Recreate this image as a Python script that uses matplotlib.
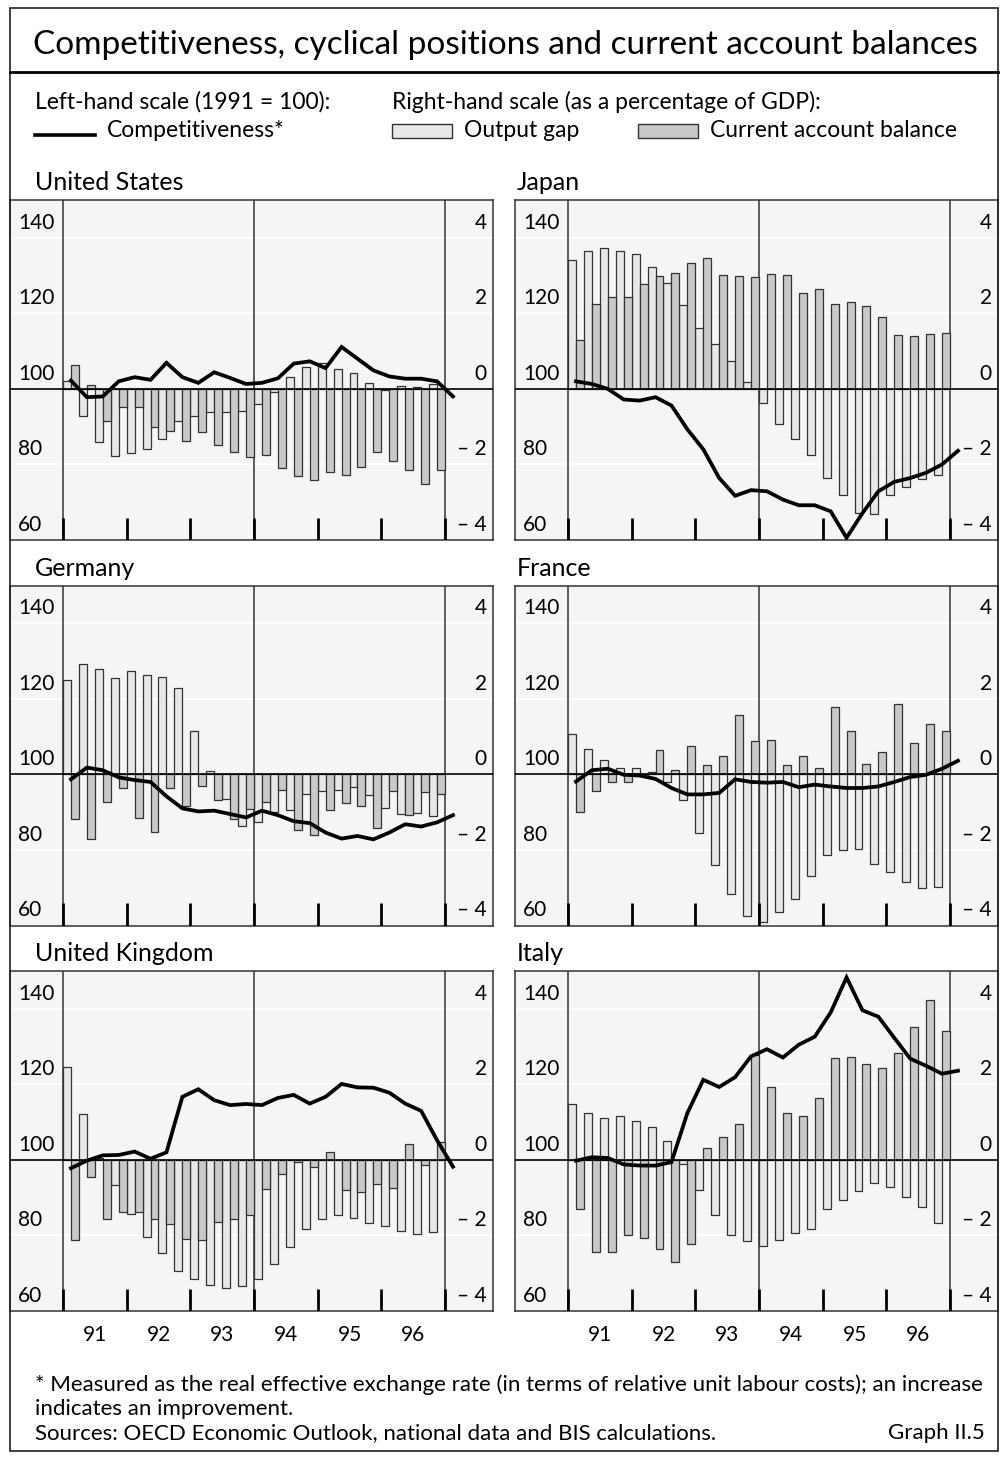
import numpy as np
import matplotlib.pyplot as plt
from matplotlib.patches import Rectangle
from matplotlib.lines import Line2D

plt.rcParams['font.family'] = ['Lato', 'DejaVu Sans']

# quarterly data 1991 Q1 - 1996 Q4 (bars), competitiveness to 1997 Q1
countries = ['United States', 'Japan', 'Germany', 'France', 'United Kingdom', 'Italy']

us_gap = [0.20, -0.71, -1.41, -1.78, -1.71, -1.58, -1.32, -0.84, -0.73, -0.62, -0.62, -0.58,
          -0.40, -0.07, 0.31, 0.58, 0.68, 0.52, 0.42, 0.15, -0.02, 0.08, 0.04, 0.13]
us_cab = [0.64, 0.11, -0.84, -0.49, -0.49, -1.00, -1.11, -1.39, -1.13, -1.49, -1.67, -1.81,
          -1.76, -2.10, -2.30, -2.42, -2.20, -2.28, -2.07, -1.66, -1.91, -2.16, -2.53, -2.15]
us_comp = [102.2, 97.8, 98.0, 102.0, 103.1, 102.4, 106.9, 103.1, 101.6, 104.4, 102.9, 101.3,
           101.6, 102.8, 106.7, 107.3, 105.5, 111.1, 108.0, 104.9, 103.3, 102.7, 102.7, 102.0, 98.0]

jp_gap = [3.40, 3.64, 3.72, 3.66, 3.57, 3.22, 2.79, 2.22, 1.62, 1.19, 0.73, 0.19,
          -0.37, -0.92, -1.32, -1.75, -2.35, -2.81, -3.28, -3.32, -2.80, -2.60, -2.39, -2.28]
jp_cab = [1.30, 2.26, 2.42, 2.43, 2.78, 2.98, 3.08, 3.32, 3.47, 3.01, 2.98, 2.96,
          3.05, 3.01, 2.53, 2.65, 2.25, 2.30, 2.20, 1.90, 1.43, 1.40, 1.46, 1.48]
jp_comp = [102.0, 101.3, 100.0, 97.2, 96.9, 97.8, 95.6, 89.3, 84.0, 76.4, 71.7, 73.2,
           72.9, 70.7, 69.2, 69.2, 67.6, 60.6, 67.1, 72.9, 75.4, 76.4, 77.8, 80.0, 83.6]

de_gap = [2.51, 2.93, 2.79, 2.54, 2.75, 2.64, 2.58, 2.28, 1.14, 0.09, -0.65, -1.36,
          -1.27, -1.00, -0.93, -0.53, -0.44, -0.40, -0.34, -0.54, -0.90, -1.05, -1.03, -1.11]
de_cab = [-1.18, -1.72, -0.74, -0.36, -1.16, -1.53, -0.36, -0.83, -0.31, -0.67, -1.18, -0.92,
          -0.74, -0.41, -1.47, -1.61, -0.94, -0.77, -0.84, -1.42, -0.44, -1.07, -0.47, -0.52]
de_comp = [98.7, 101.8, 101.1, 99.2, 98.5, 98.0, 94.2, 91.0, 90.2, 90.4, 89.5, 88.6,
           90.4, 89.2, 87.6, 87.1, 84.6, 83.0, 83.7, 82.8, 84.6, 86.8, 86.2, 87.3, 89.2]

fr_gap = [1.08, 0.66, 0.37, 0.17, 0.18, 0.06, -0.20, -0.67, -1.54, -2.41, -3.16, -3.76,
          -3.92, -3.65, -3.30, -2.69, -2.14, -2.00, -1.98, -2.36, -2.58, -2.84, -3.00, -2.98]
fr_cab = [-1.00, -0.45, -0.20, -0.20, -0.05, 0.64, 0.12, 0.76, 0.24, 0.49, 1.57, 0.88,
          0.92, 0.26, 0.50, 0.18, 1.79, 1.16, 0.27, 0.58, 1.87, 0.82, 1.33, 1.16]
fr_comp = [98.1, 101.1, 101.5, 99.9, 99.7, 98.8, 96.4, 94.7, 94.7, 95.1, 98.7, 98.0,
           97.8, 98.0, 96.6, 97.3, 96.8, 96.4, 96.4, 96.8, 98.0, 99.3, 99.9, 101.5, 103.6]

uk_gap = [2.47, 1.21, 0.05, -0.67, -1.44, -2.05, -2.47, -2.93, -3.14, -3.32, -3.40, -3.34,
          -3.16, -2.75, -2.31, -1.83, -1.56, -1.47, -1.55, -1.67, -1.76, -1.87, -1.96, -1.91]
uk_cab = [-2.12, -0.46, -1.56, -1.38, -1.39, -1.56, -1.71, -2.09, -2.12, -1.64, -1.57, -1.47,
          -0.78, -0.38, -0.05, -0.18, 0.20, -0.80, -0.84, -0.64, -0.74, 0.43, -0.13, 0.47]
uk_comp = [97.8, 99.8, 101.2, 101.3, 102.2, 100.3, 102.0, 116.7, 118.7, 115.8, 114.5, 114.8,
           114.5, 116.4, 117.2, 114.9, 116.7, 120.1, 119.2, 119.1, 117.8, 114.9, 113.0, 105.2, 98.2]

it_gap = [1.49, 1.25, 1.11, 1.15, 1.02, 0.87, 0.50, -0.11, -0.79, -1.46, -1.99, -2.16,
          -2.28, -2.13, -1.93, -1.82, -1.29, -1.07, -0.82, -0.60, -0.73, -0.98, -1.26, -1.66]
it_cab = [-1.31, -2.44, -2.44, -2.00, -2.06, -2.35, -2.71, -2.22, 0.31, 0.60, 0.94, 2.78,
          1.94, 1.25, 1.16, 1.64, 2.71, 2.73, 2.53, 2.42, 2.83, 3.51, 4.23, 3.42]
it_comp = [99.8, 100.7, 100.5, 98.8, 98.5, 98.5, 99.4, 112.4, 121.2, 119.3, 121.9, 127.4,
           129.3, 127.1, 130.5, 132.6, 139.0, 148.3, 139.6, 137.9, 132.3, 126.8, 124.9, 122.8, 123.6]

gaps = [us_gap, jp_gap, de_gap, fr_gap, uk_gap, it_gap]
cabs = [us_cab, jp_cab, de_cab, fr_cab, uk_cab, it_cab]
comps = [us_comp, jp_comp, de_comp, fr_comp, uk_comp, it_comp]

years = ['91', '92', '93', '94', '95', '96']
left_ticks = [60, 80, 100, 120, 140]
right_ticks = [-4, -2, 0, 2, 4]
right_labels = ['– 4', '– 2', '0', '2', '4']

W, H = 1002, 1459
fig = plt.figure(figsize=(W / 100, H / 100), dpi=100)

LIGHT = '#e8e8e8'
DARK = '#c9c9c9'
EDGE = '#333333'
BG = '#f5f5f5'


def px_axes(x, y, w, h):
    return fig.add_axes([x / W, 1 - (y + h) / H, w / W, h / H])


def ftext(x, y, s, **kw):
    fig.text(x / W, 1 - y / H, s, **kw)


# frame, title
fig.add_artist(Rectangle((9.5 / W, 1 - 1451 / H), 988 / W, 1443 / H, transform=fig.transFigure,
                         fill=False, lw=1.2, ec='#222222'))
fig.add_artist(Line2D([9.5 / W, 997.5 / W], [1 - 72 / H] * 2, transform=fig.transFigure,
                      lw=2, color='black'))
ftext(505, 54, 'Competitiveness, cyclical positions and current account balances',
      ha='center', va='baseline', fontsize=24)

# legend
ftext(35, 109, 'Left-hand scale (1991 = 100):', va='baseline', fontsize=16.5)
ftext(392, 109, 'Right-hand scale (as a percentage of GDP):', va='baseline', fontsize=16.5)
fig.add_artist(Line2D([35 / W, 95 / W], [1 - 135 / H] * 2, transform=fig.transFigure,
                      lw=2.6, color='black'))
ftext(107, 137, 'Competitiveness*', va='baseline', fontsize=16.5)
fig.add_artist(Rectangle((392 / W, 1 - 138 / H), 60 / W, 14 / H, transform=fig.transFigure,
                         fc=LIGHT, ec=EDGE, lw=1))
ftext(464, 137, 'Output gap', va='baseline', fontsize=16.5)
fig.add_artist(Rectangle((638 / W, 1 - 138 / H), 60 / W, 14 / H, transform=fig.transFigure,
                         fc=DARK, ec=EDGE, lw=1))
ftext(710, 137, 'Current account balance', va='baseline', fontsize=16.5)

q = np.arange(24)
qline = np.arange(25) + 0.5
xl = (-53 / 15.917, 24 + 48 / 15.917)

for k, name in enumerate(countries):
    col, row = k % 2, k // 2
    x0 = 10 if col == 0 else 515
    y0 = 200 + row * 385.5
    ax = px_axes(x0, y0, 483, 340)
    ax.set_xlim(*xl)
    ax.set_ylim(-4, 5)
    ax.set_facecolor(BG)
    for v in [-2, 2, 4]:
        ax.axhline(v, color='white', lw=1.3, zorder=0.5)
    ax.bar(q + 0.25, gaps[k], width=0.5, color=LIGHT, edgecolor=EDGE, lw=0.9, zorder=2)
    ax.bar(q + 0.75, cabs[k], width=0.5, color=DARK, edgecolor=EDGE, lw=0.9, zorder=2)
    ax.axhline(0, color='black', lw=1.2, zorder=3)
    for v in [0, 12, 24]:
        ax.axvline(v, color='#333333', lw=1.1, zorder=1)
    ax.vlines(np.arange(0, 25, 4), -4, -4 + 22 / 37.7, color='black', lw=2, zorder=3)
    ax.set_xticks([])
    ax.set_yticks([])
    for s in ax.spines.values():
        s.set_color('#333333')
        s.set_linewidth(1.1)
    for v, lab in zip(right_ticks, right_labels):
        ax.text(0.987, v + 0.24, lab, transform=ax.get_yaxis_transform(), ha='right',
                va='baseline', fontsize=15)

    ax2 = ax.twinx()
    ax2.set_ylim(60, 150)
    ax2.plot(qline, comps[k], color='black', lw=2.7, solid_joinstyle='miter', zorder=4)
    ax2.set_yticks([])
    for s in ax2.spines.values():
        s.set_visible(False)
    for v in left_ticks:
        ax2.text(0.017, v + 2.4, str(v), transform=ax2.get_yaxis_transform(), ha='left',
                 va='baseline', fontsize=15)

    tx = 35 if col == 0 else 517
    ftext(tx, y0 - 10, name, va='baseline', fontsize=18)

    if row == 2:
        for j, yr in enumerate(years):
            ftext(x0 + 53 + 15.917 * (4 * j + 2), 1341, yr, ha='center', va='baseline',
                  fontsize=15)

ftext(35, 1391, '* Measured as the real effective exchange rate (in terms of relative unit '
      'labour costs); an increase', va='baseline', fontsize=16)
ftext(35, 1415, 'indicates an improvement.', va='baseline', fontsize=16)
ftext(35, 1439, 'Sources: OECD Economic Outlook, national data and BIS calculations.',
      va='baseline', fontsize=16)
ftext(985, 1439, 'Graph II.5', ha='right', va='baseline', fontsize=16)

fig.savefig('out.png', dpi=100)
